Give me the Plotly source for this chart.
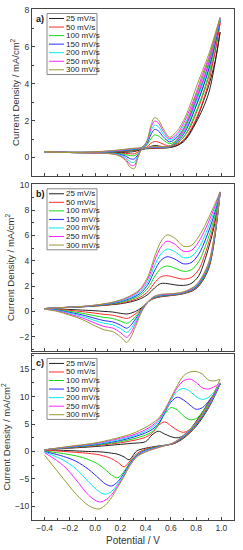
import plotly.graph_objects as go
from plotly.subplots import make_subplots

scan_rates = ["25 mV/s", "50 mV/s", "100 mV/s", "150 mV/s", "200 mV/s", "250 mV/s", "300 mV/s"]
colors = ["#222222", "#ff2a2a", "#11dd11", "#2a2aff", "#00eeee", "#ff22ff", "#999933"]
panel_labels = ["a)", "b)", "c)"]

# ---------------- Panel a ----------------
a_pot_fwd = [-0.4, -0.2, 0.0, 0.2, 0.3, 0.37, 0.41, 0.44, 0.47, 0.5, 0.54, 0.59, 0.65, 0.7, 0.75, 0.8, 0.85, 0.9, 0.95, 0.99]
a_pot_rev = [0.99, 0.9, 0.8, 0.7, 0.6, 0.5, 0.42, 0.37, 0.34, 0.31, 0.28, 0.24, 0.18, 0.1, 0.0, -0.2, -0.4]
a_cur_fwd = [
    [0.32, 0.28, 0.28, 0.32, 0.38, 0.45, 0.5, 0.6, 0.65, 0.63, 0.58, 0.55, 0.65, 0.9, 1.35, 2.0, 2.9, 3.9, 5.2, 6.8],
    [0.32, 0.28, 0.28, 0.34, 0.4, 0.48, 0.58, 0.76, 0.87, 0.84, 0.72, 0.62, 0.78, 1.1, 1.6, 2.4, 3.3, 4.4, 5.7, 7.3],
    [0.32, 0.28, 0.29, 0.36, 0.42, 0.5, 0.68, 1.0, 1.22, 1.17, 0.95, 0.75, 0.95, 1.35, 1.95, 2.8, 3.7, 4.8, 6.1, 7.5],
    [0.32, 0.28, 0.29, 0.37, 0.44, 0.52, 0.75, 1.22, 1.52, 1.45, 1.12, 0.85, 1.1, 1.55, 2.2, 3.1, 4.0, 5.1, 6.3, 7.4],
    [0.32, 0.28, 0.3, 0.39, 0.46, 0.53, 0.8, 1.4, 1.75, 1.67, 1.28, 0.95, 1.2, 1.7, 2.4, 3.3, 4.3, 5.3, 6.5, 7.5],
    [0.32, 0.28, 0.3, 0.4, 0.48, 0.55, 0.85, 1.55, 1.97, 1.88, 1.42, 1.02, 1.3, 1.85, 2.6, 3.5, 4.5, 5.4, 6.6, 7.55],
    [0.32, 0.28, 0.31, 0.42, 0.5, 0.56, 0.9, 1.7, 2.15, 2.05, 1.55, 1.1, 1.45, 2.0, 2.8, 3.8, 4.7, 5.6, 6.7, 7.6],
]
a_cur_rev = [
    [6.8, 3.5, 1.9, 0.85, 0.55, 0.5, 0.48, 0.45, 0.38, 0.32, 0.3, 0.28, 0.27, 0.26, 0.26, 0.27, 0.3],
    [7.3, 4.1, 2.1, 0.95, 0.58, 0.52, 0.5, 0.45, 0.3, 0.2, 0.2, 0.22, 0.24, 0.25, 0.26, 0.27, 0.3],
    [7.5, 4.5, 2.5, 1.1, 0.6, 0.55, 0.52, 0.45, 0.22, 0.1, 0.1, 0.16, 0.22, 0.25, 0.26, 0.27, 0.3],
    [7.4, 4.8, 2.8, 1.25, 0.62, 0.56, 0.53, 0.45, 0.15, -0.08, -0.07, 0.08, 0.19, 0.24, 0.25, 0.27, 0.3],
    [7.5, 5.0, 3.0, 1.35, 0.63, 0.57, 0.54, 0.45, 0.1, -0.26, -0.24, 0.0, 0.17, 0.23, 0.25, 0.27, 0.3],
    [7.55, 5.1, 3.2, 1.45, 0.64, 0.58, 0.55, 0.45, 0.05, -0.43, -0.4, -0.08, 0.14, 0.22, 0.24, 0.27, 0.3],
    [7.6, 5.3, 3.4, 1.55, 0.65, 0.6, 0.56, 0.45, 0.0, -0.6, -0.55, -0.15, 0.12, 0.22, 0.24, 0.27, 0.3],
]

# ---------------- Panel b ----------------
b_pot_fwd = [-0.4, -0.3, -0.2, -0.1, 0.0, 0.1, 0.2, 0.3, 0.36, 0.42, 0.47, 0.52, 0.57, 0.63, 0.7, 0.76, 0.82, 0.88, 0.94, 0.99]
b_pot_rev = [0.99, 0.9, 0.8, 0.7, 0.6, 0.52, 0.46, 0.42, 0.37, 0.32, 0.28, 0.25, 0.2, 0.14, 0.07, 0.0, -0.1, -0.2, -0.3, -0.4]
b_cur_fwd = [
    [0.22, 0.28, 0.32, 0.36, 0.42, 0.5, 0.6, 0.8, 1.0, 1.35, 1.85, 2.2, 2.2, 2.1, 2.05, 2.2, 2.8, 4.4, 6.6, 9.4],
    [0.22, 0.28, 0.32, 0.37, 0.43, 0.52, 0.65, 0.89, 1.13, 1.58, 2.24, 2.73, 2.82, 2.69, 2.55, 2.68, 3.3, 4.82, 6.87, 9.4],
    [0.21, 0.28, 0.33, 0.37, 0.45, 0.55, 0.71, 1.0, 1.29, 1.87, 2.73, 3.39, 3.59, 3.43, 3.17, 3.28, 3.92, 5.34, 7.21, 9.42],
    [0.21, 0.28, 0.33, 0.38, 0.46, 0.58, 0.77, 1.1, 1.44, 2.15, 3.2, 4.02, 4.32, 4.14, 3.76, 3.85, 4.51, 5.83, 7.54, 9.43],
    [0.21, 0.28, 0.33, 0.39, 0.48, 0.61, 0.81, 1.19, 1.57, 2.38, 3.59, 4.54, 4.93, 4.73, 4.25, 4.33, 5.0, 6.25, 7.81, 9.44],
    [0.2, 0.28, 0.34, 0.39, 0.49, 0.63, 0.86, 1.28, 1.7, 2.61, 3.98, 5.07, 5.55, 5.32, 4.75, 4.81, 5.5, 6.66, 8.08, 9.44],
    [0.2, 0.28, 0.34, 0.4, 0.5, 0.65, 0.9, 1.35, 1.8, 2.8, 4.3, 5.5, 6.05, 5.8, 5.15, 5.2, 5.9, 7.0, 8.3, 9.45],
]
b_cur_rev = [
    [9.4, 3.4, 1.8, 1.4, 1.25, 1.15, 1.0, 0.76, 0.3, 0.0, -0.15, -0.2, -0.15, -0.05, 0.0, 0.05, 0.1, 0.15, 0.2, 0.22],
    [9.4, 3.48, 1.85, 1.42, 1.27, 1.18, 1.02, 0.76, 0.25, -0.19, -0.46, -0.56, -0.45, -0.3, -0.23, -0.14, -0.02, 0.08, 0.17, 0.22],
    [9.42, 3.57, 1.9, 1.45, 1.3, 1.22, 1.05, 0.76, 0.2, -0.4, -0.79, -0.94, -0.76, -0.56, -0.48, -0.35, -0.15, 0.0, 0.13, 0.21],
    [9.42, 3.65, 1.95, 1.48, 1.32, 1.25, 1.08, 0.76, 0.15, -0.6, -1.13, -1.33, -1.08, -0.83, -0.73, -0.55, -0.28, -0.08, 0.1, 0.21],
    [9.43, 3.72, 2.0, 1.5, 1.35, 1.28, 1.1, 0.76, 0.1, -0.78, -1.42, -1.66, -1.35, -1.06, -0.94, -0.73, -0.39, -0.14, 0.07, 0.21],
    [9.44, 3.81, 2.05, 1.52, 1.37, 1.31, 1.12, 0.76, 0.05, -0.98, -1.75, -2.05, -1.67, -1.32, -1.19, -0.93, -0.52, -0.22, 0.04, 0.2],
    [9.45, 3.9, 2.1, 1.55, 1.4, 1.35, 1.15, 0.76, 0.0, -1.2, -2.1, -2.45, -2.0, -1.6, -1.45, -1.15, -0.65, -0.3, 0.0, 0.2],
]

# ---------------- Panel c ----------------
c_pot_fwd = [-0.4, -0.2, 0.0, 0.2, 0.3, 0.4, 0.45, 0.5, 0.55, 0.6, 0.65, 0.7, 0.75, 0.8, 0.85, 0.9, 0.95, 0.99]
c_pot_rev = [0.99, 0.9, 0.8, 0.7, 0.62, 0.5, 0.4, 0.33, 0.27, 0.23, 0.18, 0.13, 0.08, 0.03, -0.05, -0.15, -0.25, -0.4]
c_cur_fwd = [
    [0.3, 0.6, 0.9, 1.3, 1.5, 1.8, 3.0, 3.7, 3.2, 2.7, 2.5, 2.9, 4.0, 5.5, 7.2, 9.0, 10.8, 12.3],
    [0.3, 0.7, 1.05, 1.6, 2.0, 2.6, 3.3, 4.7, 5.4, 4.7, 3.9, 3.5, 4.0, 5.3, 7.0, 8.8, 10.7, 12.3],
    [0.3, 0.75, 1.15, 1.8, 2.3, 3.0, 3.6, 4.8, 6.8, 8.0, 7.6, 6.5, 5.8, 6.0, 7.2, 8.8, 10.6, 12.3],
    [0.3, 0.8, 1.25, 2.0, 2.6, 3.4, 4.0, 5.0, 7.0, 9.0, 9.9, 9.4, 8.5, 7.7, 8.0, 9.2, 10.8, 12.4],
    [0.3, 0.85, 1.35, 2.2, 2.8, 3.7, 4.4, 5.4, 7.2, 9.3, 11.0, 11.5, 11.0, 10.0, 9.5, 9.9, 11.1, 12.4],
    [0.3, 0.9, 1.45, 2.4, 3.0, 4.0, 4.7, 5.7, 7.4, 9.6, 11.6, 12.9, 13.2, 12.6, 11.6, 11.4, 11.9, 12.5],
    [0.3, 0.95, 1.55, 2.6, 3.3, 4.4, 5.1, 6.0, 7.6, 9.8, 12.0, 13.8, 14.5, 14.6, 14.1, 13.0, 12.9, 13.2],
]
c_cur_rev = [
    [12.3, 8.0, 4.6, 2.4, 1.4, 1.0, 0.6, 0.1, -1.5, -1.0, -0.5, -0.3, -0.15, -0.05, 0.0, 0.1, 0.2, 0.3],
    [12.3, 8.1, 4.8, 2.5, 1.45, 0.95, 0.45, -0.4, -1.9, -2.8, -2.0, -1.3, -0.9, -0.6, -0.35, -0.15, 0.0, 0.25],
    [12.3, 8.2, 4.9, 2.6, 1.5, 0.9, 0.3, -0.6, -2.2, -3.6, -4.8, -4.3, -3.3, -2.4, -1.5, -0.8, -0.4, 0.1],
    [12.4, 8.3, 5.0, 2.7, 1.5, 0.85, 0.2, -0.7, -2.4, -3.9, -5.5, -6.3, -5.9, -4.9, -3.3, -1.8, -0.9, 0.0],
    [12.4, 8.4, 5.1, 2.8, 1.55, 0.8, 0.1, -0.8, -2.6, -4.2, -5.9, -7.3, -7.8, -7.3, -5.6, -3.2, -1.6, -0.1],
    [12.5, 8.5, 5.2, 2.9, 1.55, 0.75, 0.0, -0.9, -2.7, -4.4, -6.2, -7.9, -8.9, -9.2, -8.0, -5.2, -2.6, -0.2],
    [13.2, 8.7, 5.3, 3.0, 1.6, 0.7, -0.1, -1.0, -2.8, -4.5, -6.5, -8.4, -9.8, -10.5, -9.9, -7.8, -5.0, -0.7],
]

y_ranges = [[-0.98, 8.05], [-3.1, 10.05], [-12.5, 17.8]]
y_dticks = [2, 2, 5]
y_minor = [1, 1, 2.5]
x_range = [-0.5, 1.1]

FONT = "Arial, Liberation Sans, sans-serif"
AXC = "#444444"

fig = make_subplots(rows=3, cols=1)

panels = [
    (a_pot_fwd, a_pot_rev, a_cur_fwd, a_cur_rev),
    (b_pot_fwd, b_pot_rev, b_cur_fwd, b_cur_rev),
    (c_pot_fwd, c_pot_rev, c_cur_fwd, c_cur_rev),
]

for p, (pf, pr, cf, cr) in enumerate(panels):
    for i in range(7):
        fig.add_trace(
            go.Scatter(
                x=pf + pr,
                y=cf[i] + cr[i],
                mode="lines",
                name=scan_rates[i],
                line=dict(color=colors[i], width=1, shape="spline", smoothing=0.9),
                showlegend=False,
            ),
            row=p + 1, col=1,
        )

domains = [[0.674, 1.0], [0.3315, 0.657], [0.0, 0.325]]
for p in range(3):
    xa = "xaxis" if p == 0 else f"xaxis{p+1}"
    ya = "yaxis" if p == 0 else f"yaxis{p+1}"
    fig.layout[xa].update(
        range=x_range, domain=[0, 1], showline=True, mirror=True, linecolor=AXC, linewidth=1,
        ticks="inside", ticklen=3, tickcolor=AXC, dtick=0.2, tick0=-0.4,
        minor=dict(ticks="inside", ticklen=2, dtick=0.1, tickcolor=AXC),
        showgrid=False, zeroline=False, showticklabels=(p == 2),
        tickfont=dict(size=8.5, color="#333333", family=FONT),
        tickformat=".1f",
    )
    fig.layout[ya].update(
        range=y_ranges[p], domain=domains[p], showline=True, mirror=True, linecolor=AXC, linewidth=1,
        ticks="inside", ticklen=3, tickcolor=AXC, dtick=y_dticks[p], tick0=0,
        minor=dict(ticks="inside", ticklen=2, dtick=y_minor[p], tickcolor=AXC),
        showgrid=False, zeroline=False, showticklabels=True,
        tickfont=dict(size=8.5, color="#333333", family=FONT),
        title=dict(text="Current Density / mA/cm<sup>2</sup>", font=dict(size=9.5, color="#333333", family=FONT), standoff=3),
    )

fig.layout.xaxis3.title = dict(text="Potential / V", font=dict(size=10, color="#333333", family=FONT), standoff=4)

# manual legends and panel labels
row0 = 9.5
row_step = 8.55
for p in range(3):
    xr = "x domain" if p == 0 else f"x{p+1} domain"
    yr = "y domain" if p == 0 else f"y{p+1} domain"
    fig.add_shape(type="rect", xref=xr, yref=yr, xsizemode="pixel", ysizemode="pixel",
                  xanchor=0, yanchor=1, x0=15, x1=65, y0=-4.5, y1=-65.5,
                  line=dict(color="#888888", width=1), fillcolor="rgba(255,255,255,0)")
    for i in range(7):
        yy = -(row0 + i * row_step)
        fig.add_shape(type="line", xref=xr, yref=yr, xsizemode="pixel", ysizemode="pixel",
                      xanchor=0, yanchor=1, x0=17, x1=32, y0=yy, y1=yy,
                      line=dict(color=colors[i], width=1))
        fig.add_annotation(xref=xr, yref=yr, x=0, y=1, xanchor="left", yanchor="middle",
                           xshift=33, yshift=yy, text=scan_rates[i], showarrow=False,
                           font=dict(size=8, color="#222222", family=FONT), borderpad=0)
    fig.add_annotation(xref=xr, yref=yr, x=0, y=1, xanchor="left", yanchor="middle",
                       xshift=3, yshift=-row0, text=f"<b>{panel_labels[p]}</b>", showarrow=False,
                       font=dict(size=9, color="#111111", family=FONT), borderpad=0)

fig.update_layout(
    width=243, height=550, autosize=False,
    margin=dict(l=28, r=9, t=5, b=30),
    paper_bgcolor="white", plot_bgcolor="white",
    font=dict(family=FONT),
    showlegend=False,
)

fig.write_html("out.html", config={"displayModeBar": False},
               post_script="document.body.style.margin='0';")
